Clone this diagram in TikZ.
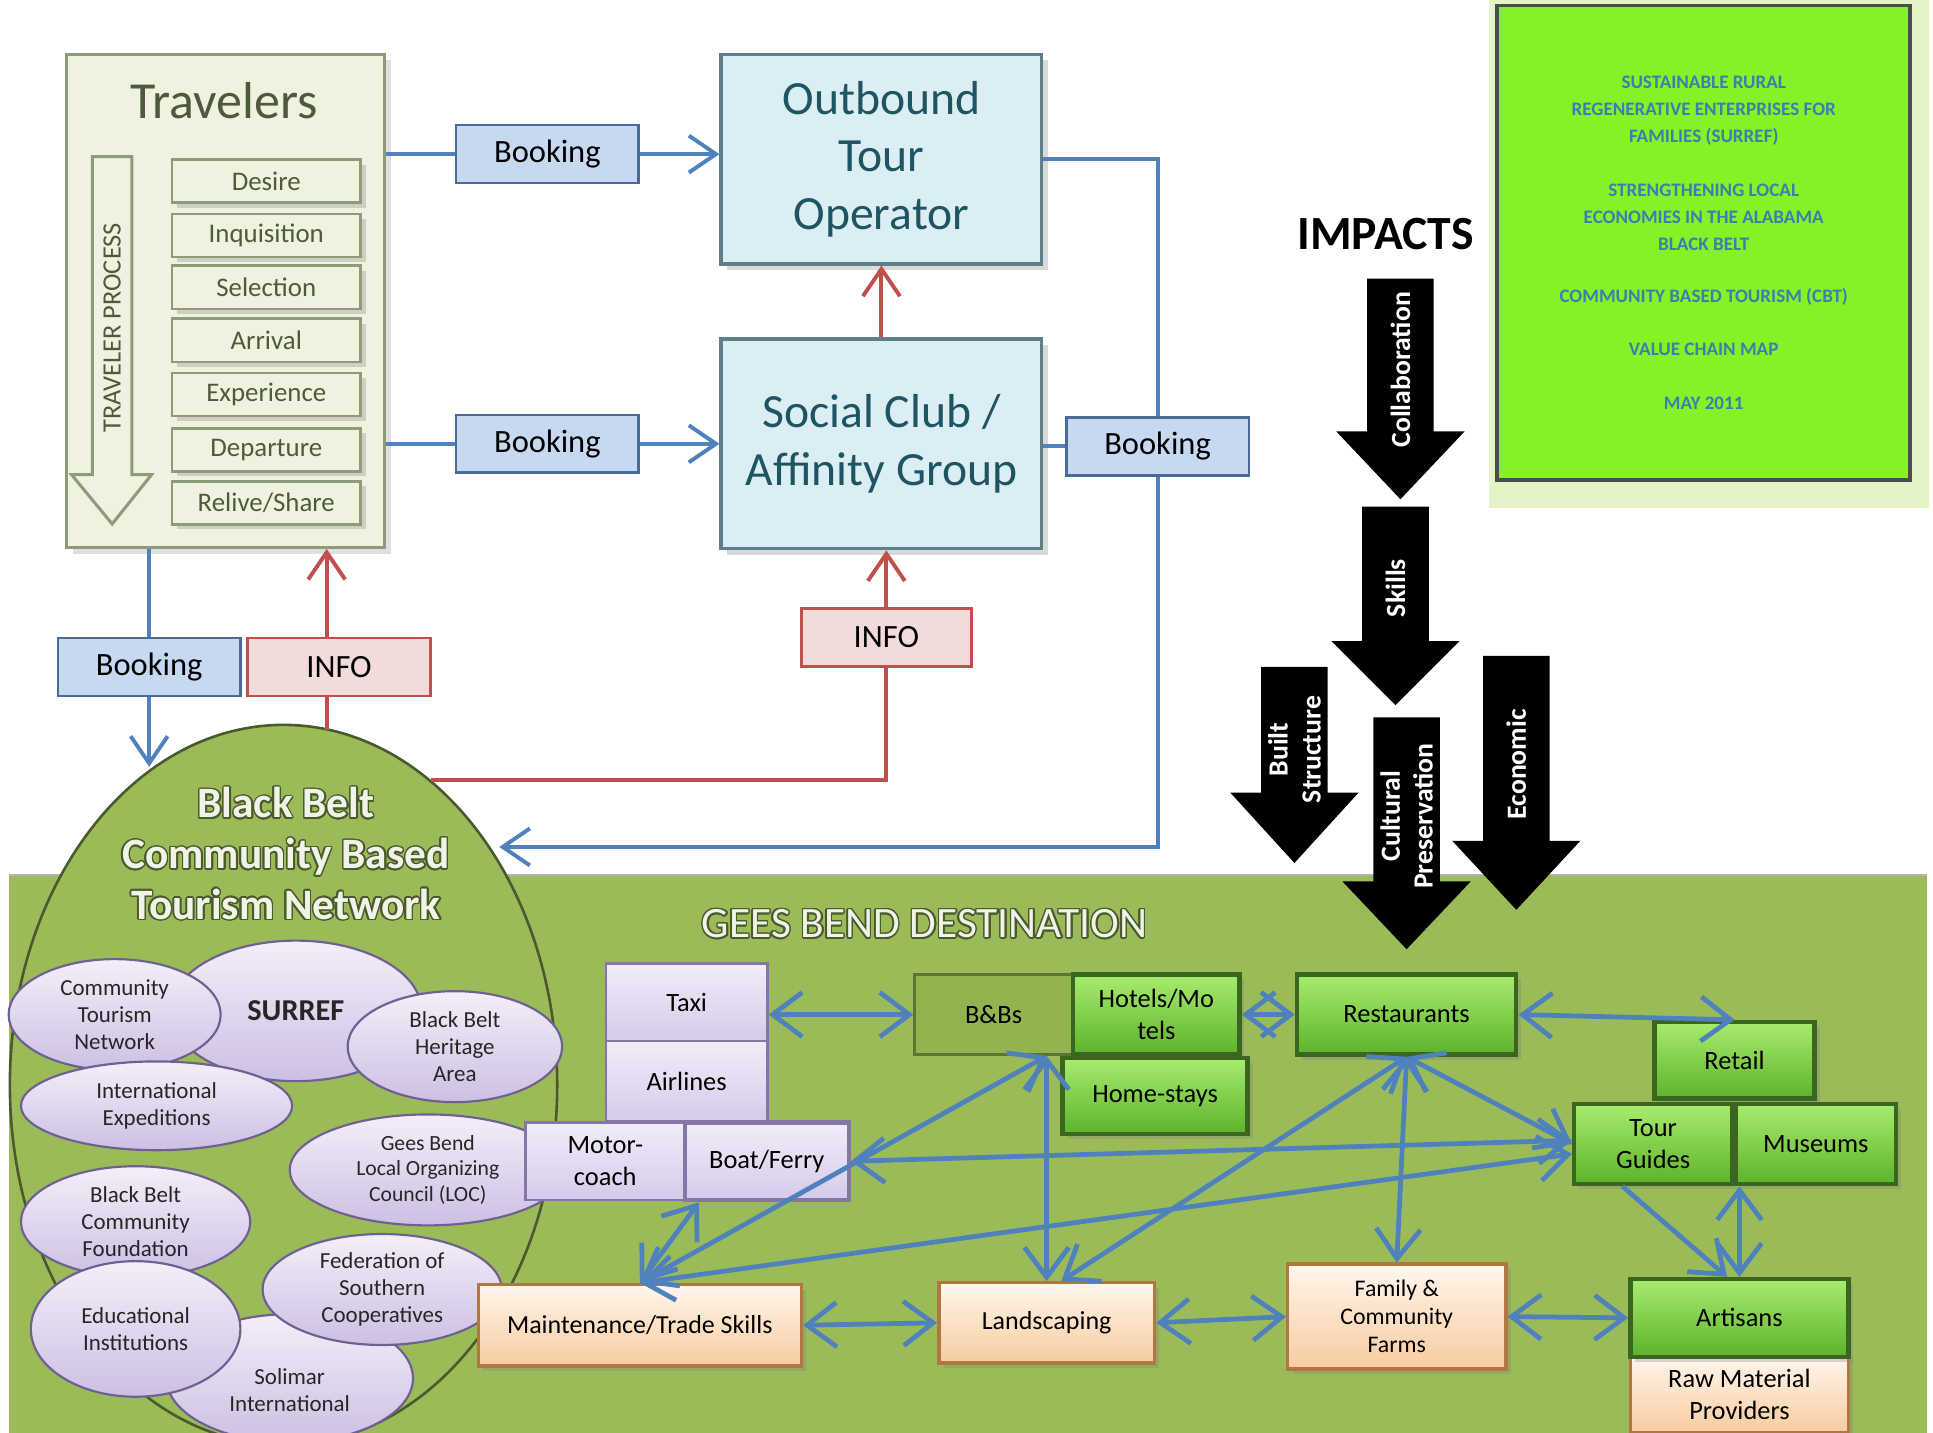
\documentclass[tikz,border=0pt]{standalone}
\usepackage{fontspec}
\setmainfont{Carlito}
\usepackage{xcolor}
\usepackage{contour}
\usepackage{tikz}
\usetikzlibrary{positioning,calc,shapes.geometric,arrows.meta,shadows}
\definecolor{TravFill}{HTML}{EEF2DF}
\definecolor{TravEdge}{HTML}{8D9B7B}
\definecolor{TravText}{HTML}{4E5A3C}
\definecolor{BookBlue}{HTML}{C6D9F1}
\definecolor{BookEdge}{HTML}{4A6A98}
\definecolor{InfoPink}{HTML}{F2DCDB}
\definecolor{LineRed}{HTML}{C0504D}
\definecolor{LineBlue}{HTML}{4F81BD}
\definecolor{OpBlue}{HTML}{DBEEF4}
\definecolor{OpEdge}{HTML}{5E7E88}
\definecolor{OpText}{HTML}{1F5462}
\definecolor{DestGreen}{HTML}{9BBB59}
\definecolor{NetEdge}{HTML}{4B5A2E}
\definecolor{NetText}{HTML}{F0F4E6}
\definecolor{PelTop}{HTML}{F3EFF9}
\definecolor{PelBot}{HTML}{CDBFE3}
\definecolor{PelEdge}{HTML}{6F6094}
\definecolor{LavTop}{HTML}{F1EDF9}
\definecolor{LavBot}{HTML}{D5CAEA}
\definecolor{LavEdge}{HTML}{8576A6}
\definecolor{GrnTop}{HTML}{A8EC6E}
\definecolor{GrnBot}{HTML}{5DB22B}
\definecolor{GrnEdge}{HTML}{3A6620}
\definecolor{BnbFill}{HTML}{92B450}
\definecolor{BnbEdge}{HTML}{5D7434}
\definecolor{PchTop}{HTML}{FFF6EE}
\definecolor{PchBot}{HTML}{F8CB9E}
\definecolor{PchEdge}{HTML}{B07840}
\definecolor{TitleGreen}{HTML}{84F226}
\definecolor{TitlePale}{HTML}{E3F5C6}
\definecolor{TitleText}{HTML}{3C7FAE}
\contourlength{0.35pt}
\contournumber{20}
\newcommand{\bbout}[1]{\contour{NetEdge}{#1}}

\begin{document}
\begin{tikzpicture}[x=0.1mm,y=-0.1mm]
	\tikzset{
		tbox/.style={draw=TravEdge, fill=TravFill, line width=0.7pt,
			drop shadow={opacity=0.25,shadow xshift=0.5mm,shadow yshift=-0.5mm}},
		stage/.style={draw=TravEdge, fill=TravFill, line width=0.6pt, minimum width=15.3mm,
			minimum height=3.5mm, inner sep=0pt, text=TravText, font=\fontsize{6.2}{7}\selectfont,
			drop shadow={opacity=0.3,shadow xshift=0.4mm,shadow yshift=-0.4mm}},
		bk/.style={draw=BookEdge, fill=BookBlue, line width=0.6pt, minimum width=14.8mm,
			minimum height=4.7mm, inner sep=0pt, font=\fontsize{7.5}{9}\selectfont},
		infobox/.style={bk, draw=LineRed, fill=InfoPink},
		op/.style={draw=OpEdge, fill=OpBlue, line width=0.8pt, minimum width=26mm, minimum height=17mm,
			align=center, text=OpText, font=\fontsize{11}{13.3}\selectfont,
			drop shadow={opacity=0.3,shadow xshift=0.5mm,shadow yshift=-0.5mm}},
		pel/.style={ellipse, draw=PelEdge, line width=0.5pt, top color=PelTop, bottom color=PelBot,
			align=center, inner sep=0pt, text=black!85, font=\fontsize{5.3}{6.2}\selectfont},
		lav/.style={draw=LavEdge, line width=0.6pt, top color=LavTop, bottom color=LavBot,
			align=center, inner sep=0pt, font=\fontsize{6.1}{7.4}\selectfont},
		grn/.style={draw=GrnEdge, line width=1pt, top color=GrnTop, bottom color=GrnBot,
			align=center, inner sep=0pt, font=\fontsize{6.1}{7.3}\selectfont,
			drop shadow={opacity=0.3,shadow xshift=0.4mm,shadow yshift=-0.4mm}},
		bnbx/.style={draw=BnbEdge, fill=BnbFill, line width=0.6pt, inner sep=0pt,
			font=\fontsize{6.1}{7.3}\selectfont},
		pch/.style={draw=PchEdge, line width=0.8pt, top color=PchTop, bottom color=PchBot,
			align=center, inner sep=0pt, font=\fontsize{6}{6.8}\selectfont,
			drop shadow={opacity=0.3,shadow xshift=0.4mm,shadow yshift=-0.4mm}},
		bl/.style={draw=LineBlue, line width=0.9pt},
		bla/.style={bl, -{Straight Barb[length=2.2mm,width=3mm]}},
		rd/.style={draw=LineRed, line width=0.9pt},
		rda/.style={rd, -{Straight Barb[length=2.2mm,width=3mm]}},
		da/.style={draw=LineBlue, line width=1.1pt,
			{Straight Barb[length=2.4mm,width=3.6mm]}-{Straight Barb[length=2.4mm,width=3.6mm]}},
		sa/.style={draw=LineBlue, line width=1.1pt, -{Straight Barb[length=2.4mm,width=3.6mm]}},
		imp/.style={rotate=90, text=white, align=center, inner sep=0pt,
			font=\bfseries\fontsize{6.4}{7.6}\selectfont}
	}
	\useasboundingbox (0,0) rectangle (1568,1162);
	
	% ======= Destination area =======
	\fill[DestGreen] (7,710) rectangle (1563,1162);
	\draw[gray!60, line width=0.4pt] (7,710) -- (1563,710);
	\node[ellipse, draw=NetEdge, fill=DestGreen, line width=0.6pt,
		minimum width=44.4mm, minimum height=58.4mm] (net) at (230,880) {};
	\node[align=center, text=NetText, font=\bfseries\fontsize{10}{11.7}\selectfont] (nett) at (232,693)
		{\bbout{Black Belt}\\\bbout{Community Based}\\\bbout{Tourism Network}};
	\node[text=NetText, font=\fontsize{10}{12}\selectfont] (dest) at (750,750) {\bbout{GEES BEND DESTINATION}};
	
	% ======= Title box =======
	\fill[TitlePale] (1208,0) rectangle (1565,412);
	\node[draw=gray!60!black, fill=TitleGreen, line width=0.8pt, minimum width=33.5mm,
		minimum height=38.5mm, align=center, text=TitleText,
		font=\bfseries\fontsize{4.4}{6.2}\selectfont] (ttl) at (1382,197)
		{SUSTAINABLE RURAL\\REGENERATIVE ENTERPRISES FOR\\FAMILIES (SURREF)\\[2.2mm]
		 STRENGTHENING LOCAL\\ECONOMIES IN THE ALABAMA\\BLACK BELT\\[2.1mm]
		 COMMUNITY BASED TOURISM (CBT)\\[2.1mm]VALUE CHAIN MAP\\[2.2mm]MAY 2011};
	\node[font=\bfseries\fontsize{11}{13}\selectfont] (impt) at (1124,190) {IMPACTS};
	
	% ======= Travelers =======
	\node[tbox, minimum width=25.8mm, minimum height=40mm] (trav) at (183,244) {};
	\node[text=TravText, font=\fontsize{12}{14}\selectfont] (travt) at (182,82) {Travelers};
	\draw[draw=TravEdge, fill=TravFill, line width=0.7pt]
		(75,127) -- (107,127) -- (107,385) -- (123,385) -- (91,425) -- (58,385) -- (75,385) -- cycle;
	\node[rotate=90, text=TravText, font=\fontsize{6.1}{7}\selectfont] (proc) at (91,266) {TRAVELER PROCESS};
	\foreach \nm/\yy/\lbl in {des/147/Desire, inq/191/Inquisition, sel/233/Selection, arr/276/Arrival,
		exper/320/Experience, dep/365/Departure, rel/408/{Relive/Share}}
		\node[stage] (\nm) at (216,\yy) {\lbl};
	
	% ======= Operators and bookings =======
	\node[op] (out) at (715,129) {Outbound\\Tour\\Operator};
	\node[op] (soc) at (715,360) {Social Club /\\Affinity Group};
	\node[bk] (bk1) at (444,125) {Booking};
	\node[bk] (bk2) at (444,360) {Booking};
	\node[bk] (bkr) at (939,362) {Booking};
	\node[bk] (bkl) at (121,541) {Booking};
	\node[infobox] (infl) at (275,541) {INFO};
	\node[infobox, minimum width=13.8mm] (infm) at (719,517) {INFO};
	\coordinate (netbk) at (121,622);
	\coordinate (netinf) at (265,592);
	\coordinate (netred) at (350,633);
	\coordinate (netbl) at (405,687);
	
	\draw[bl] (trav.east |- bk1) -- (bk1);
	\draw[bla] (bk1) -- (bk1 -| out.west);
	\draw[bl] (trav.east |- bk2) -- (bk2);
	\draw[bla] (bk2) -- (bk2 -| soc.west);
	\draw[rda] (soc) -- (out);
	\draw[rda] (infm.north) -- (infm.north |- soc.south);
	\draw[rd] (infm.south) |- (netred);
	\draw[bl] (soc.east |- bkr) -- (bkr);
	\draw[bl] (out.east) -| (bkr.north);
	\draw[bla] (bkr.south) |- (netbl);
	\draw[bl] (bkl.north |- trav.south) -- (bkl.north);
	\draw[bla] (bkl.south) -- (netbk);
	\draw[rd] (netinf) -- (netinf |- infl.south);
	\draw[rda] (netinf |- infl.north) -- (netinf |- trav.south);
	
	% ======= Network partners =======
	\node[pel, minimum width=20.4mm, minimum height=11.4mm, font=\bfseries\fontsize{7}{8}\selectfont] (surref) at (240,820) {SURREF};
	\node[pel, minimum width=17.2mm, minimum height=9mm] (ctn) at (93,823) {Community\\Tourism\\Network};
	\node[pel, minimum width=17.4mm, minimum height=9mm] (bbha) at (369,849) {Black Belt\\Heritage\\Area};
	\node[pel, minimum width=22mm, minimum height=7.2mm] (iexp) at (127,897) {International\\Expeditions};
	\node[pel, minimum width=22.4mm, minimum height=9mm, font=\fontsize{5}{5.9}\selectfont] (loc) at (347,949) {Gees Bend\\Local Organizing\\Council (LOC)};
	\node[pel, minimum width=18.6mm, minimum height=9mm] (bbcf) at (110,991) {Black Belt\\Community\\Foundation};
	\node[pel, minimum width=20mm, minimum height=10.4mm] (sol) at (235,1118) {\\[1mm]Solimar\\International};
	\node[pel, minimum width=19.4mm, minimum height=9mm] (fsc) at (310,1046) {Federation of\\Southern\\Cooperatives};
	\node[pel, minimum width=17mm, minimum height=11mm] (edu) at (110,1078) {Educational\\Institutions};
	
	% ======= Transport =======
	\node[lav, minimum width=13.1mm, minimum height=6.3mm] (taxi) at (557,813) {Taxi};
	\node[lav, minimum width=13.1mm, minimum height=6.5mm] (air) at (557,877) {Airlines};
	\node[lav, minimum width=12.9mm, minimum height=6.3mm] (moto) at (491,942) {Motor-\\coach};
	\node[lav, minimum width=13.3mm, minimum height=6.3mm, line width=1pt] (boat) at (622,942) {Boat/Ferry};
	
	% ======= Destination services =======
	\node[bnbx, minimum width=12.8mm, minimum height=6.5mm] (bnb) at (806,823) {B\&Bs};
	\node[grn, minimum width=13.5mm, minimum height=6.5mm] (hotel) at (938,823) {Hotels/Mo\\tels};
	\node[grn, minimum width=15mm, minimum height=6.2mm] (home) at (937,889) {Home-stays};
	\node[grn, minimum width=17.8mm, minimum height=6.5mm] (rest) at (1141,823) {Restaurants};
	\node[grn, minimum width=13mm, minimum height=6.2mm] (retail) at (1407,860) {Retail};
	\node[grn, minimum width=12.8mm, minimum height=6.5mm] (tour) at (1341,928) {Tour\\Guides};
	\node[grn, minimum width=13mm, minimum height=6.5mm] (mus) at (1473,928) {Museums};
	\node[pch, minimum width=17.7mm, minimum height=6.3mm, font=\fontsize{6.1}{7.4}\selectfont] (raw) at (1411,1131) {Raw Material\\Providers};
	\node[grn, minimum width=17.7mm, minimum height=6.3mm] (art) at (1411,1069) {Artisans};
	\node[pch, minimum width=26.2mm, minimum height=6.6mm] (maint) at (519,1075) {Maintenance/Trade Skills};
	\node[pch, minimum width=17.5mm, minimum height=6.5mm] (land) at (849,1073) {Landscaping};
	\node[pch, minimum width=17.7mm, minimum height=8.5mm, font=\fontsize{5.5}{6.5}\selectfont] (farm) at (1133,1068) {Family \&\\Community\\Farms};
	
	% ======= Value chain links =======
	\draw[da] (taxi.east |- bnb) -- (bnb.west);
	\draw[da] (hotel.east) -- (rest.west);
	\draw[da] (rest.east) -- (retail.north);
	\draw[da] (land.north |- bnb.south) -- (land.north);
	\draw[da] (maint.north) -- (land.north |- bnb.south);
	\draw[da] ($(boat.south)+(-55,0)$) -- (maint.north);
	\draw[da] (boat.east) -- ($(tour.west)+(0,-3)$);
	\draw[da] (maint.north) -- ($(tour.west)+(0,8)$);
	\draw[da] (rest.south) -- ($(land.north)+(12,0)$);
	\draw[da] (rest.south) -- (farm.north);
	\draw[da] (rest.south) -- (tour.west);
	\draw[sa] ($(tour.south)+(-25,0)$) -- ($(art.north)+(-10,0)$);
	\draw[da] (art.north) -- (art.north |- mus.south);
	\draw[da] (maint.east) -- (land.west);
	\draw[da] (land.east) -- (farm.west);
	\draw[da] (farm.east) -- (art.west);
	
	% ======= Impact arrows =======
	\foreach \nm/\cx/\ty/\hy/\ky/\tx/\lbl in {
		collab/1136/226/350/405/300/Collaboration,
		skills/1132/411/520/572/477/Skills,
		built/1050/541/643/700/608/{Built\\Structure},
		cult/1141/582/715/770/662/{Cultural\\Preservation},
		econ/1230/532/682/738/620/Economic}
	{
		\fill[black] (\cx-27,\ty) -- (\cx+27,\ty) -- (\cx+27,\hy) -- (\cx+52,\hy) -- (\cx,\ky)
			-- (\cx-52,\hy) -- (\cx-27,\hy) -- cycle;
		\node[imp] (\nm) at (\cx,\tx) {\lbl};
	}
\end{tikzpicture}
\end{document}
